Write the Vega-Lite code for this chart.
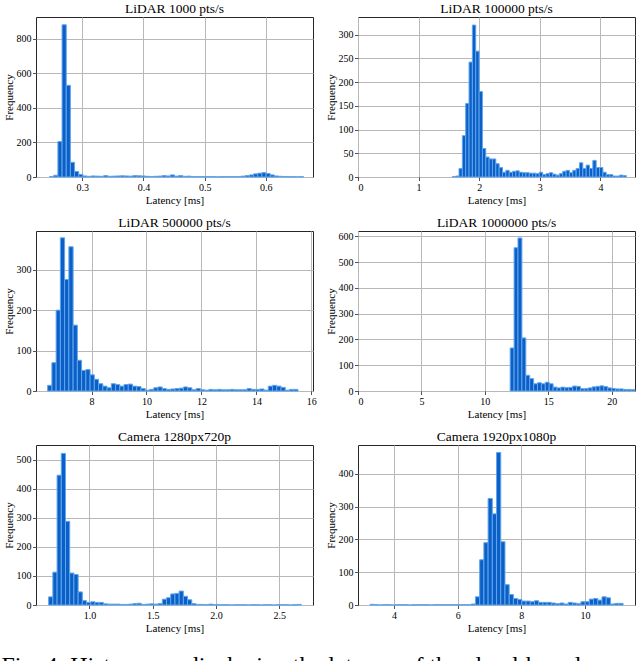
{
  "$schema": "https://vega.github.io/schema/vega-lite/v6.json",
  "padding": {"left": 1, "top": 1, "right": 0, "bottom": 0},
  "config": {
    "font": "Liberation Serif",
    "view": {"stroke": "#262626", "strokeWidth": 1},
    "axis": {
      "domain": false,
      "grid": true,
      "gridColor": "#b8b8b8",
      "gridWidth": 1,
      "tickColor": "#262626",
      "tickSize": 3.5,
      "tickWidth": 0.8,
      "labelFont": "Liberation Serif",
      "labelFontSize": 10,
      "labelFontWeight": "normal",
      "labelColor": "#000000",
      "labelPadding": 1.5,
      "titleFont": "Liberation Serif",
      "titleFontSize": 11,
      "titleFontWeight": "normal",
      "titleColor": "#000000",
      "titlePadding": 2
    },
    "axisX": {"labelPadding": 2, "titlePadding": 2},
    "title": {"font": "Liberation Serif", "fontSize": 13.5, "fontWeight": "normal", "color": "#000000", "offset": 1.5},
    "bar": {"fill": "#0b5fc6", "stroke": "#5ea6ee", "strokeWidth": 1}
  },
  "title": {
    "text": "Fig. 4: Histograms displaying the latency of the cloud-based",
    "orient": "bottom",
    "anchor": "start",
    "font": "Liberation Serif",
    "fontSize": 24,
    "offset": 20,
    "dx": -1
  },
  "datasets": {
    "p1": [
      {"lo":0.2467,"hi":0.2535,"n":3},{"lo":0.2535,"hi":0.2603,"n":10},{"lo":0.2603,"hi":0.2671,"n":205},{"lo":0.2671,"hi":0.2739,"n":880},
      {"lo":0.2739,"hi":0.2807,"n":530},{"lo":0.2807,"hi":0.2875,"n":85},{"lo":0.2875,"hi":0.2943,"n":32},{"lo":0.2943,"hi":0.3011,"n":15},
      {"lo":0.3011,"hi":0.3079,"n":6},{"lo":0.3079,"hi":0.3147,"n":4},{"lo":0.3147,"hi":0.3215,"n":6},{"lo":0.3215,"hi":0.3283,"n":5},
      {"lo":0.3283,"hi":0.3351,"n":4},{"lo":0.3351,"hi":0.3419,"n":8},{"lo":0.3419,"hi":0.3487,"n":4},{"lo":0.3487,"hi":0.3555,"n":5},
      {"lo":0.3555,"hi":0.3623,"n":6},{"lo":0.3623,"hi":0.3691,"n":7},{"lo":0.3691,"hi":0.3759,"n":6},{"lo":0.3759,"hi":0.3827,"n":5},
      {"lo":0.3827,"hi":0.3895,"n":8},{"lo":0.3895,"hi":0.3963,"n":7},{"lo":0.3963,"hi":0.4031,"n":6},{"lo":0.4031,"hi":0.4099,"n":4},
      {"lo":0.4099,"hi":0.4167,"n":3},{"lo":0.4167,"hi":0.4235,"n":4},{"lo":0.4235,"hi":0.4303,"n":5},{"lo":0.4303,"hi":0.4371,"n":8},
      {"lo":0.4371,"hi":0.4439,"n":6},{"lo":0.4439,"hi":0.4507,"n":12},{"lo":0.4507,"hi":0.4575,"n":5},{"lo":0.4575,"hi":0.4643,"n":8},
      {"lo":0.4643,"hi":0.4711,"n":4},{"lo":0.4711,"hi":0.4779,"n":5},{"lo":0.4779,"hi":0.4847,"n":3},{"lo":0.4847,"hi":0.4915,"n":2},
      {"lo":0.4915,"hi":0.4983,"n":3},{"lo":0.4983,"hi":0.5051,"n":2},{"lo":0.5051,"hi":0.5119,"n":2},{"lo":0.5119,"hi":0.5187,"n":2},
      {"lo":0.5187,"hi":0.5255,"n":1},{"lo":0.5255,"hi":0.5323,"n":2},{"lo":0.5323,"hi":0.5391,"n":2},{"lo":0.5391,"hi":0.5459,"n":3},
      {"lo":0.5459,"hi":0.5527,"n":2},{"lo":0.5527,"hi":0.5595,"n":3},{"lo":0.5595,"hi":0.5663,"n":5},{"lo":0.5663,"hi":0.5731,"n":8},
      {"lo":0.5731,"hi":0.5799,"n":12},{"lo":0.5799,"hi":0.5867,"n":18},{"lo":0.5867,"hi":0.5935,"n":22},{"lo":0.5935,"hi":0.6003,"n":25},
      {"lo":0.6003,"hi":0.6071,"n":20},{"lo":0.6071,"hi":0.6139,"n":12},{"lo":0.6139,"hi":0.6207,"n":6},{"lo":0.6207,"hi":0.6275,"n":4},
      {"lo":0.6275,"hi":0.6343,"n":3},{"lo":0.6343,"hi":0.6411,"n":2},{"lo":0.6411,"hi":0.6479,"n":2},{"lo":0.6479,"hi":0.6547,"n":1},
      {"lo":0.6547,"hi":0.6615,"n":2}
    ],
    "p2": [
      {"lo":1.5560,"hi":1.6112,"n":1},{"lo":1.6112,"hi":1.6664,"n":2},{"lo":1.6664,"hi":1.7216,"n":18},{"lo":1.7216,"hi":1.7768,"n":87},
      {"lo":1.7768,"hi":1.8320,"n":155},{"lo":1.8320,"hi":1.8872,"n":242},{"lo":1.8872,"hi":1.9424,"n":320},{"lo":1.9424,"hi":1.9976,"n":265},
      {"lo":1.9976,"hi":2.0528,"n":180},{"lo":2.0528,"hi":2.1080,"n":60},{"lo":2.1080,"hi":2.1632,"n":42},{"lo":2.1632,"hi":2.2184,"n":38},
      {"lo":2.2184,"hi":2.2736,"n":38},{"lo":2.2736,"hi":2.3288,"n":28},{"lo":2.3288,"hi":2.3840,"n":20},{"lo":2.3840,"hi":2.4392,"n":10},
      {"lo":2.4392,"hi":2.4944,"n":14},{"lo":2.4944,"hi":2.5496,"n":10},{"lo":2.5496,"hi":2.6048,"n":12},{"lo":2.6048,"hi":2.6600,"n":13},
      {"lo":2.6600,"hi":2.7152,"n":10},{"lo":2.7152,"hi":2.7704,"n":9},{"lo":2.7704,"hi":2.8256,"n":9},{"lo":2.8256,"hi":2.8808,"n":8},
      {"lo":2.8808,"hi":2.9360,"n":8},{"lo":2.9360,"hi":2.9912,"n":7},{"lo":2.9912,"hi":3.0464,"n":10},{"lo":3.0464,"hi":3.1016,"n":5},
      {"lo":3.1016,"hi":3.1568,"n":7},{"lo":3.1568,"hi":3.2120,"n":9},{"lo":3.2120,"hi":3.2672,"n":6},{"lo":3.2672,"hi":3.3224,"n":4},
      {"lo":3.3224,"hi":3.3776,"n":7},{"lo":3.3776,"hi":3.4328,"n":12},{"lo":3.4328,"hi":3.4880,"n":14},{"lo":3.4880,"hi":3.5432,"n":9},
      {"lo":3.5432,"hi":3.5984,"n":14},{"lo":3.5984,"hi":3.6536,"n":18},{"lo":3.6536,"hi":3.7088,"n":30},{"lo":3.7088,"hi":3.7640,"n":18},
      {"lo":3.7640,"hi":3.8192,"n":25},{"lo":3.8192,"hi":3.8744,"n":18},{"lo":3.8744,"hi":3.9296,"n":35},{"lo":3.9296,"hi":3.9848,"n":20},
      {"lo":3.9848,"hi":4.0400,"n":20},{"lo":4.0400,"hi":4.0952,"n":10},{"lo":4.0952,"hi":4.1504,"n":5},{"lo":4.1504,"hi":4.2056,"n":5},
      {"lo":4.2056,"hi":4.2608,"n":2},{"lo":4.2608,"hi":4.3160,"n":2},{"lo":4.3160,"hi":4.3712,"n":4},{"lo":4.3712,"hi":4.4264,"n":3}
    ],
    "p3": [
      {"lo":6.4040,"hi":6.5584,"n":14},{"lo":6.5584,"hi":6.7128,"n":70},{"lo":6.7128,"hi":6.8672,"n":200},{"lo":6.8672,"hi":7.0216,"n":379},
      {"lo":7.0216,"hi":7.1760,"n":276},{"lo":7.1760,"hi":7.3304,"n":357},{"lo":7.3304,"hi":7.4848,"n":163},{"lo":7.4848,"hi":7.6392,"n":76},
      {"lo":7.6392,"hi":7.7936,"n":51},{"lo":7.7936,"hi":7.9480,"n":53},{"lo":7.9480,"hi":8.1024,"n":40},{"lo":8.1024,"hi":8.2568,"n":29},
      {"lo":8.2568,"hi":8.4112,"n":18},{"lo":8.4112,"hi":8.5656,"n":12},{"lo":8.5656,"hi":8.7200,"n":8},{"lo":8.7200,"hi":8.8744,"n":18},
      {"lo":8.8744,"hi":9.0288,"n":16},{"lo":9.0288,"hi":9.1832,"n":12},{"lo":9.1832,"hi":9.3376,"n":16},{"lo":9.3376,"hi":9.4920,"n":17},
      {"lo":9.4920,"hi":9.6464,"n":12},{"lo":9.6464,"hi":9.8008,"n":11},{"lo":9.8008,"hi":9.9552,"n":6},{"lo":9.9552,"hi":10.1096,"n":2},
      {"lo":10.1096,"hi":10.2640,"n":4},{"lo":10.2640,"hi":10.4184,"n":8},{"lo":10.4184,"hi":10.5728,"n":10},{"lo":10.5728,"hi":10.7272,"n":6},
      {"lo":10.7272,"hi":10.8816,"n":4},{"lo":10.8816,"hi":11.0360,"n":5},{"lo":11.0360,"hi":11.1904,"n":6},{"lo":11.1904,"hi":11.3448,"n":7},
      {"lo":11.3448,"hi":11.4992,"n":10},{"lo":11.4992,"hi":11.6536,"n":8},{"lo":11.6536,"hi":11.8080,"n":3},{"lo":11.8080,"hi":11.9624,"n":6},
      {"lo":11.9624,"hi":12.1168,"n":3},{"lo":12.1168,"hi":12.2712,"n":2},{"lo":12.2712,"hi":12.4256,"n":4},{"lo":12.4256,"hi":12.5800,"n":3},
      {"lo":12.5800,"hi":12.7344,"n":4},{"lo":12.7344,"hi":12.8888,"n":3},{"lo":12.8888,"hi":13.0432,"n":3},{"lo":13.0432,"hi":13.1976,"n":4},
      {"lo":13.1976,"hi":13.3520,"n":3},{"lo":13.3520,"hi":13.5064,"n":3},{"lo":13.5064,"hi":13.6608,"n":3},{"lo":13.6608,"hi":13.8152,"n":6},
      {"lo":13.8152,"hi":13.9696,"n":4},{"lo":13.9696,"hi":14.1240,"n":4},{"lo":14.1240,"hi":14.2784,"n":5},{"lo":14.2784,"hi":14.4328,"n":2},
      {"lo":14.4328,"hi":14.5872,"n":12},{"lo":14.5872,"hi":14.7416,"n":14},{"lo":14.7416,"hi":14.8960,"n":12},{"lo":14.8960,"hi":15.0504,"n":9},
      {"lo":15.0504,"hi":15.2048,"n":2},{"lo":15.2048,"hi":15.3592,"n":4},{"lo":15.3592,"hi":15.5136,"n":4}
    ],
    "p4": [
      {"lo":12.0000,"hi":12.3075,"n":167},{"lo":12.3075,"hi":12.6150,"n":556},{"lo":12.6150,"hi":12.9225,"n":594},{"lo":12.9225,"hi":13.2300,"n":206},
      {"lo":13.2300,"hi":13.5375,"n":61},{"lo":13.5375,"hi":13.8450,"n":48},{"lo":13.8450,"hi":14.1525,"n":28},{"lo":14.1525,"hi":14.4600,"n":32},
      {"lo":14.4600,"hi":14.7675,"n":28},{"lo":14.7675,"hi":15.0750,"n":34},{"lo":15.0750,"hi":15.3825,"n":28},{"lo":15.3825,"hi":15.6900,"n":15},
      {"lo":15.6900,"hi":15.9975,"n":12},{"lo":15.9975,"hi":16.3050,"n":15},{"lo":16.3050,"hi":16.6125,"n":13},{"lo":16.6125,"hi":16.9200,"n":14},
      {"lo":16.9200,"hi":17.2275,"n":19},{"lo":17.2275,"hi":17.5350,"n":18},{"lo":17.5350,"hi":17.8425,"n":9},{"lo":17.8425,"hi":18.1500,"n":9},
      {"lo":18.1500,"hi":18.4575,"n":12},{"lo":18.4575,"hi":18.7650,"n":16},{"lo":18.7650,"hi":19.0725,"n":18},{"lo":19.0725,"hi":19.3800,"n":20},
      {"lo":19.3800,"hi":19.6875,"n":17},{"lo":19.6875,"hi":19.9950,"n":12},{"lo":19.9950,"hi":20.3025,"n":10},{"lo":20.3025,"hi":20.6100,"n":8},
      {"lo":20.6100,"hi":20.9175,"n":8},{"lo":20.9175,"hi":21.2250,"n":6},{"lo":21.2250,"hi":21.5325,"n":6},{"lo":21.5325,"hi":21.8400,"n":5}
    ],
    "p5": [
      {"lo":0.67800,"hi":0.71125,"n":28},{"lo":0.71125,"hi":0.74450,"n":113},{"lo":0.74450,"hi":0.77775,"n":447},{"lo":0.77775,"hi":0.81100,"n":522},
      {"lo":0.81100,"hi":0.84425,"n":288},{"lo":0.84425,"hi":0.87750,"n":110},{"lo":0.87750,"hi":0.91075,"n":105},{"lo":0.91075,"hi":0.94400,"n":45},
      {"lo":0.94400,"hi":0.97725,"n":15},{"lo":0.97725,"hi":1.01050,"n":9},{"lo":1.01050,"hi":1.04375,"n":11},{"lo":1.04375,"hi":1.07700,"n":9},
      {"lo":1.07700,"hi":1.11025,"n":9},{"lo":1.11025,"hi":1.14350,"n":4},{"lo":1.14350,"hi":1.17675,"n":3},{"lo":1.17675,"hi":1.21000,"n":3},
      {"lo":1.21000,"hi":1.24325,"n":3},{"lo":1.24325,"hi":1.27650,"n":2},{"lo":1.27650,"hi":1.30975,"n":2},{"lo":1.30975,"hi":1.34300,"n":3},
      {"lo":1.34300,"hi":1.37625,"n":5},{"lo":1.37625,"hi":1.40950,"n":6},{"lo":1.40950,"hi":1.44275,"n":2},{"lo":1.44275,"hi":1.47600,"n":3},
      {"lo":1.47600,"hi":1.50925,"n":4},{"lo":1.50925,"hi":1.54250,"n":3},{"lo":1.54250,"hi":1.57575,"n":5},{"lo":1.57575,"hi":1.60900,"n":20},
      {"lo":1.60900,"hi":1.64225,"n":25},{"lo":1.64225,"hi":1.67550,"n":38},{"lo":1.67550,"hi":1.70875,"n":40},{"lo":1.70875,"hi":1.74200,"n":48},
      {"lo":1.74200,"hi":1.77525,"n":30},{"lo":1.77525,"hi":1.80850,"n":18},{"lo":1.80850,"hi":1.84175,"n":5},{"lo":1.84175,"hi":1.87500,"n":2},
      {"lo":1.87500,"hi":1.90825,"n":2},{"lo":1.90825,"hi":1.94150,"n":1},{"lo":1.94150,"hi":1.97475,"n":3},{"lo":1.97475,"hi":2.00800,"n":1},
      {"lo":2.00800,"hi":2.04125,"n":1},{"lo":2.04125,"hi":2.07450,"n":1},{"lo":2.07450,"hi":2.10775,"n":1},{"lo":2.10775,"hi":2.14100,"n":0},
      {"lo":2.14100,"hi":2.17425,"n":1},{"lo":2.17425,"hi":2.20750,"n":1},{"lo":2.20750,"hi":2.24075,"n":1},{"lo":2.24075,"hi":2.27400,"n":0},
      {"lo":2.27400,"hi":2.30725,"n":1},{"lo":2.30725,"hi":2.34050,"n":1},{"lo":2.34050,"hi":2.37375,"n":0},{"lo":2.37375,"hi":2.40700,"n":1},
      {"lo":2.40700,"hi":2.44025,"n":1},{"lo":2.44025,"hi":2.47350,"n":0},{"lo":2.47350,"hi":2.50675,"n":1},{"lo":2.50675,"hi":2.54000,"n":1},
      {"lo":2.54000,"hi":2.57325,"n":1},{"lo":2.57325,"hi":2.60650,"n":0},{"lo":2.60650,"hi":2.63975,"n":1},{"lo":2.63975,"hi":2.67300,"n":2}
    ],
    "p6": [
      {"lo":3.2460,"hi":3.3785,"n":2},{"lo":3.3785,"hi":3.5110,"n":1},{"lo":3.5110,"hi":3.6435,"n":0},{"lo":3.6435,"hi":3.7760,"n":1},
      {"lo":3.7760,"hi":3.9085,"n":1},{"lo":3.9085,"hi":4.0410,"n":0},{"lo":4.0410,"hi":4.1735,"n":1},{"lo":4.1735,"hi":4.3060,"n":1},
      {"lo":4.3060,"hi":4.4385,"n":1},{"lo":4.4385,"hi":4.5710,"n":0},{"lo":4.5710,"hi":4.7035,"n":1},{"lo":4.7035,"hi":4.8360,"n":1},
      {"lo":4.8360,"hi":4.9685,"n":1},{"lo":4.9685,"hi":5.1010,"n":1},{"lo":5.1010,"hi":5.2335,"n":0},{"lo":5.2335,"hi":5.3660,"n":1},
      {"lo":5.3660,"hi":5.4985,"n":1},{"lo":5.4985,"hi":5.6310,"n":1},{"lo":5.6310,"hi":5.7635,"n":1},{"lo":5.7635,"hi":5.8960,"n":1},
      {"lo":5.8960,"hi":6.0285,"n":1},{"lo":6.0285,"hi":6.1610,"n":1},{"lo":6.1610,"hi":6.2935,"n":1},{"lo":6.2935,"hi":6.4260,"n":1},
      {"lo":6.4260,"hi":6.5585,"n":3},{"lo":6.5585,"hi":6.6910,"n":25},{"lo":6.6910,"hi":6.8235,"n":138},{"lo":6.8235,"hi":6.9560,"n":190},
      {"lo":6.9560,"hi":7.0885,"n":325},{"lo":7.0885,"hi":7.2210,"n":278},{"lo":7.2210,"hi":7.3535,"n":465},{"lo":7.3535,"hi":7.4860,"n":193},
      {"lo":7.4860,"hi":7.6185,"n":62},{"lo":7.6185,"hi":7.7510,"n":32},{"lo":7.7510,"hi":7.8835,"n":20},{"lo":7.8835,"hi":8.0160,"n":17},
      {"lo":8.0160,"hi":8.1485,"n":12},{"lo":8.1485,"hi":8.2810,"n":12},{"lo":8.2810,"hi":8.4135,"n":10},{"lo":8.4135,"hi":8.5460,"n":13},
      {"lo":8.5460,"hi":8.6785,"n":8},{"lo":8.6785,"hi":8.8110,"n":8},{"lo":8.8110,"hi":8.9435,"n":8},{"lo":8.9435,"hi":9.0760,"n":6},
      {"lo":9.0760,"hi":9.2085,"n":4},{"lo":9.2085,"hi":9.3410,"n":6},{"lo":9.3410,"hi":9.4735,"n":3},{"lo":9.4735,"hi":9.6060,"n":8},
      {"lo":9.6060,"hi":9.7385,"n":6},{"lo":9.7385,"hi":9.8710,"n":4},{"lo":9.8710,"hi":10.0035,"n":10},{"lo":10.0035,"hi":10.1360,"n":10},
      {"lo":10.1360,"hi":10.2685,"n":18},{"lo":10.2685,"hi":10.4010,"n":20},{"lo":10.4010,"hi":10.5335,"n":15},{"lo":10.5335,"hi":10.6660,"n":25},
      {"lo":10.6660,"hi":10.7985,"n":22},{"lo":10.7985,"hi":10.9310,"n":3},{"lo":10.9310,"hi":11.0635,"n":5},{"lo":11.0635,"hi":11.1960,"n":5}
    ]
  },
  "columns": 2,
  "spacing": {"row": 54, "column": 45},
  "bounds": "flush",
  "concat": [
    {
      "title": "LiDAR 1000 pts/s",
      "width": 277, "height": 160,
      "data": {"name": "p1"},
      "mark": "bar",
      "encoding": {
        "x": {"field": "lo", "type": "quantitative", "title": "Latency [ms]", "scale": {"domain": [0.2245, 0.677], "nice": false, "zero": false}, "axis": {"values": [0.3, 0.4, 0.5, 0.6], "format": ".1f"}},
        "x2": {"field": "hi"},
        "y": {"field": "n", "type": "quantitative", "title": "Frequency", "scale": {"domain": [0, 925], "nice": false}, "axis": {"values": [0, 200, 400, 600, 800]}},
        "y2": {"datum": 0}
      }
    },
    {
      "title": "LiDAR 100000 pts/s",
      "width": 277, "height": 160,
      "data": {"name": "p2"},
      "mark": "bar",
      "encoding": {
        "x": {"field": "lo", "type": "quantitative", "title": "Latency [ms]", "scale": {"domain": [0, 4.57], "nice": false, "zero": false}, "axis": {"values": [0, 1, 2, 3, 4], "format": "d"}},
        "x2": {"field": "hi"},
        "y": {"field": "n", "type": "quantitative", "title": "Frequency", "scale": {"domain": [0, 337], "nice": false}, "axis": {"values": [0, 50, 100, 150, 200, 250, 300]}},
        "y2": {"datum": 0}
      }
    },
    {
      "title": "LiDAR 500000 pts/s",
      "width": 277, "height": 160,
      "data": {"name": "p3"},
      "mark": "bar",
      "encoding": {
        "x": {"field": "lo", "type": "quantitative", "title": "Latency [ms]", "scale": {"domain": [5.98, 16.06], "nice": false, "zero": false}, "axis": {"values": [8, 10, 12, 14, 16], "format": "d"}},
        "x2": {"field": "hi"},
        "y": {"field": "n", "type": "quantitative", "title": "Frequency", "scale": {"domain": [0, 396], "nice": false}, "axis": {"values": [0, 100, 200, 300]}},
        "y2": {"datum": 0}
      }
    },
    {
      "title": "LiDAR 1000000 pts/s",
      "width": 277, "height": 160,
      "data": {"name": "p4"},
      "mark": "bar",
      "encoding": {
        "x": {"field": "lo", "type": "quantitative", "title": "Latency [ms]", "scale": {"domain": [0, 21.84], "nice": false, "zero": false}, "axis": {"values": [0, 5, 10, 15, 20], "format": "d"}},
        "x2": {"field": "hi"},
        "y": {"field": "n", "type": "quantitative", "title": "Frequency", "scale": {"domain": [0, 621], "nice": false}, "axis": {"values": [0, 100, 200, 300, 400, 500, 600]}},
        "y2": {"datum": 0}
      }
    },
    {
      "title": "Camera 1280px720p",
      "width": 277, "height": 160,
      "data": {"name": "p5"},
      "mark": "bar",
      "encoding": {
        "x": {"field": "lo", "type": "quantitative", "title": "Latency [ms]", "scale": {"domain": [0.578, 2.766], "nice": false, "zero": false}, "axis": {"values": [1.0, 1.5, 2.0, 2.5], "format": ".1f"}},
        "x2": {"field": "hi"},
        "y": {"field": "n", "type": "quantitative", "title": "Frequency", "scale": {"domain": [0, 551], "nice": false}, "axis": {"values": [0, 100, 200, 300, 400, 500]}},
        "y2": {"datum": 0}
      }
    },
    {
      "title": "Camera 1920px1080p",
      "width": 277, "height": 160,
      "data": {"name": "p6"},
      "mark": "bar",
      "encoding": {
        "x": {"field": "lo", "type": "quantitative", "title": "Latency [ms]", "scale": {"domain": [2.87, 11.57], "nice": false, "zero": false}, "axis": {"values": [4, 6, 8, 10], "format": "d"}},
        "x2": {"field": "hi"},
        "y": {"field": "n", "type": "quantitative", "title": "Frequency", "scale": {"domain": [0, 488], "nice": false}, "axis": {"values": [0, 100, 200, 300, 400]}},
        "y2": {"datum": 0}
      }
    }
  ]
}
